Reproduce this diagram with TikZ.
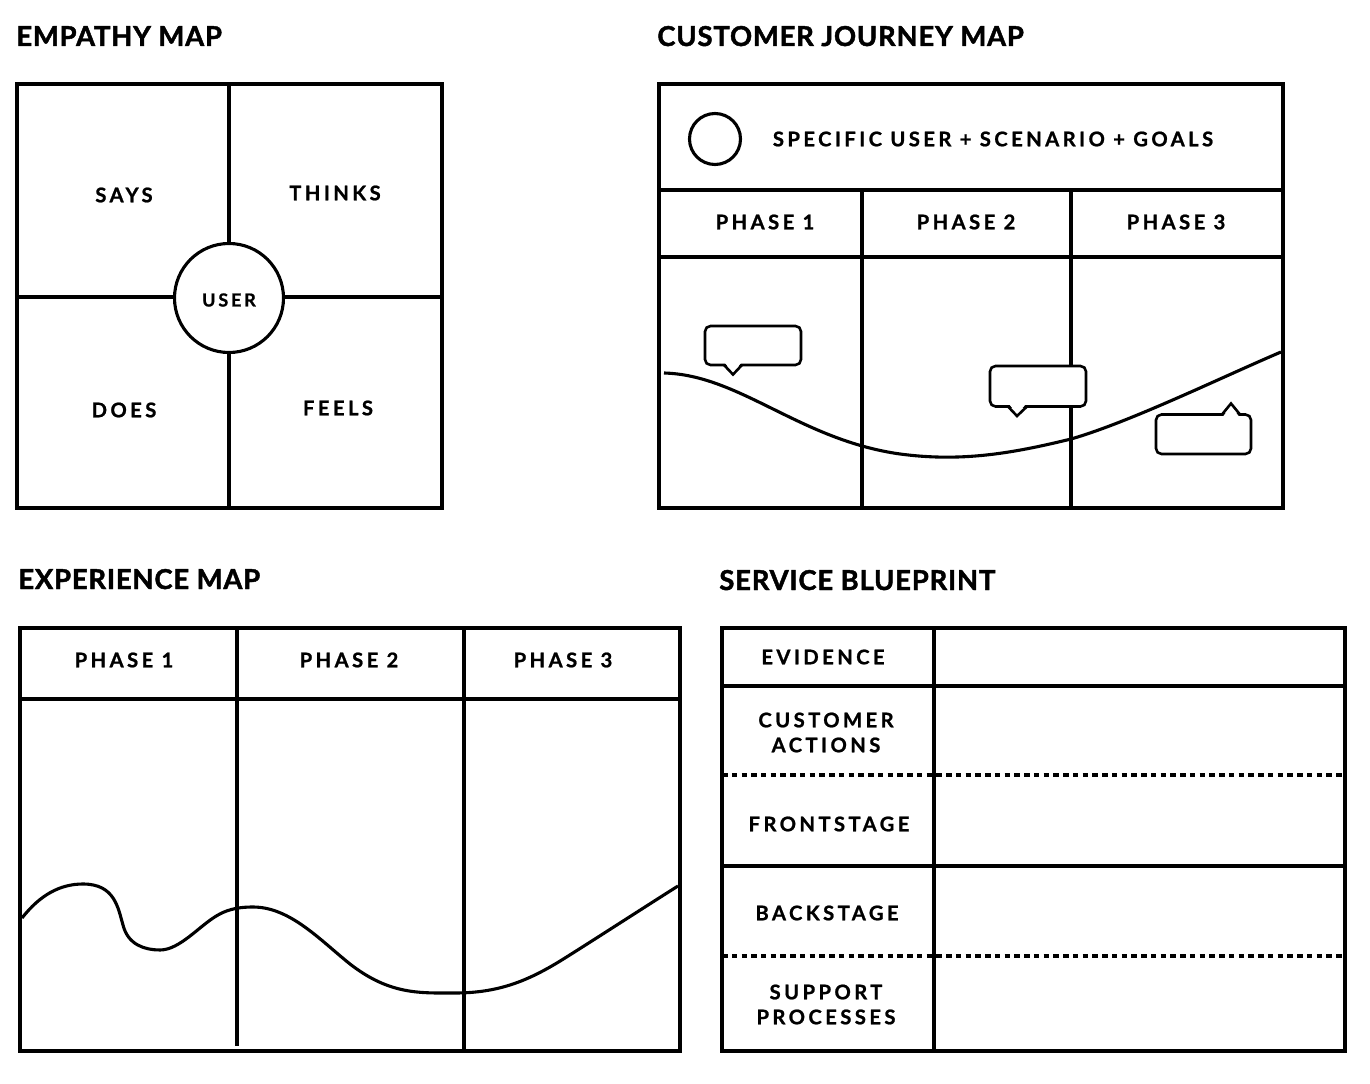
\documentclass[tikz,border=0pt]{standalone}
\usepackage{fontspec}
\setmainfont{Lato}
\begin{document}
\begin{tikzpicture}[x=0.02cm,y=-0.02cm,
  frame/.style={line width=0.068cm},
  divider/.style={line width=0.062cm},
  dotline/.style={line width=0.062cm, dash pattern=on 0.11cm off 0.085cm},
  curve/.style={line width=0.062cm, line join=round},
  bubble/.style={line width=0.052cm, rounded corners=0.11cm, fill=white},
  tail/.style={line width=0.052cm, line join=miter},
  heading/.style={anchor=base west, inner sep=0pt, font=\fontsize{15.6}{18}\selectfont\bfseries\addfontfeature{LetterSpace=3,FakeBold=1.6}},
  label/.style={inner sep=0pt, align=center, font=\fontsize{11.5}{14.2}\selectfont\bfseries\addfontfeature{LetterSpace=17,FakeBold=1}},
  smalllabel/.style={inner sep=0pt, font=\fontsize{10.2}{12}\selectfont\bfseries\addfontfeature{LetterSpace=16,FakeBold=1}}]
\path[use as bounding box, fill=white] (0,0) rectangle (1370,1084);

% ---------- EMPATHY MAP ----------
\node[heading] (t1) at (16,46) {EMPATHY MAP};
\draw[divider] (229,84) -- (229,508);
\draw[divider] (17,297) -- (442,297);
\draw[frame] (17,84) rectangle (442,508);
\draw[divider, fill=white] (229,298) circle [radius=54.5];
\node[label] (says) at (124,195) {SAYS};
\node[label] (thinks) at (335,193) {THINKS};
\node[smalllabel] (user) at (229,300) {USER};
\node[label] (does) at (124,410) {DOES};
\node[label] (feels) at (338,408) {FEELS};

% ---------- CUSTOMER JOURNEY MAP ----------
\node[heading] (t2) at (657,46) {CUSTOMER JOURNEY MAP};
\draw[divider] (657,190) -- (1283,190);
\draw[divider] (659,257) -- (1285,257);
\draw[divider] (862,190) -- (862,508);
\draw[divider] (1071,190) -- (1071,508);
\draw[frame] (659,84) rectangle (1283,508);
\draw[divider] (715,139) circle [radius=25.5];
\node[label] (goal) at (993,139) {SPECIFIC USER + SCENARIO + GOALS};
\node[label] (cp1) at (765,222) {PHASE 1};
\node[label] (cp2) at (966,222) {PHASE 2};
\node[label] (cp3) at (1176,222) {PHASE 3};
\draw[curve] (664,373) .. controls (740,375) and (800,440) .. (900,454)
  .. controls (960,462) and (1010,454) .. (1071,439)
  .. controls (1130,422) and (1220,378) .. (1281,352);
% bubble 1 (tail down)
\draw[bubble] (705,326) rectangle (801,365);
\fill[white] (725,363) -- (733,373) -- (741,363) -- cycle;
\draw[tail] (724,365) -- (733,374.5) -- (742,365);
% bubble 2 (tail down)
\draw[bubble] (990,366) rectangle (1086,406.5);
\fill[white] (1009,404) -- (1017,414) -- (1026,404) -- cycle;
\draw[tail] (1008,406.5) -- (1017,416) -- (1027,406.5);
% bubble 3 (tail up)
\draw[bubble] (1156,414.5) rectangle (1251,454);
\fill[white] (1223,416.5) -- (1231,406) -- (1239,416.5) -- cycle;
\draw[tail] (1222,414.5) -- (1231,403.5) -- (1240,414.5);

% ---------- EXPERIENCE MAP ----------
\node[heading] (t3) at (18,589) {EXPERIENCE MAP};
\draw[divider] (20,699) -- (680,699);
\draw[divider] (237,628) -- (237,1046);
\draw[divider] (464,628) -- (464,1051);
\draw[frame] (20,628) rectangle (680,1051);
\node[label] (ep1) at (124,660) {PHASE 1};
\node[label] (ep2) at (349,660) {PHASE 2};
\node[label] (ep3) at (563,660) {PHASE 3};
\draw[curve] (22,918) .. controls (40,895) and (60,884) .. (83,884)
  .. controls (115,884) and (118,908) .. (123,925)
  .. controls (128,945) and (145,950) .. (160,950)
  .. controls (180,950) and (200,925) .. (218,915)
  .. controls (230,908) and (243,907) .. (253,907)
  .. controls (290,907) and (320,940) .. (350,964)
  .. controls (390,995) and (420,993) .. (455,993)
  .. controls (500,993) and (530,980) .. (565,958)
  .. controls (600,936) and (640,910) .. (678,886);

% ---------- SERVICE BLUEPRINT ----------
\node[heading] (t4) at (719,590) {SERVICE BLUEPRINT};
\draw[divider] (722,686) -- (1345,686);
\draw[divider] (722,866) -- (1345,866);
\draw[dotline] (722,775) -- (1347,775);
\draw[dotline] (722,956) -- (1345,956);
\draw[divider] (934,628) -- (934,1051);
\draw[frame] (722,628) rectangle (1345,1051);
\node[label] (ev) at (823,657) {EVIDENCE};
\node[label] (ca) at (826,732.5) {CUSTOMER\\ACTIONS};
\node[label] (fs) at (829,824) {FRONTSTAGE};
\node[label] (bs) at (827,913) {BACKSTAGE};
\node[label] (sp) at (826,1004.5) {SUPPORT\\PROCESSES};
\end{tikzpicture}
\end{document}
